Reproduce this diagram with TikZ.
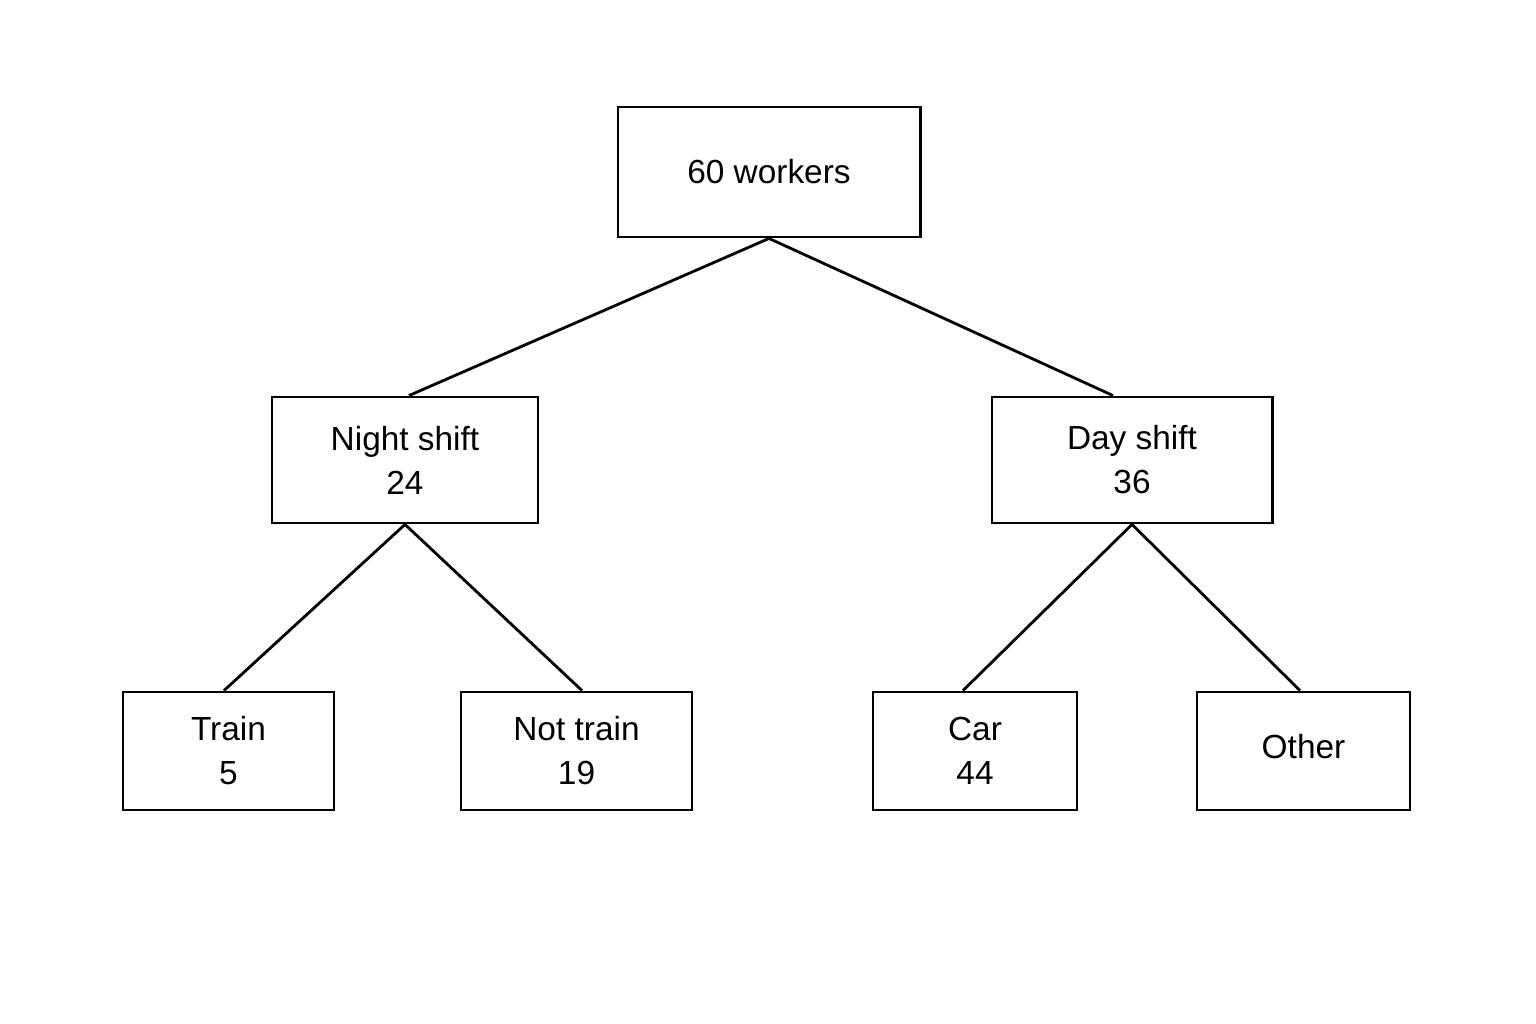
\documentclass[tikz,border=0pt]{standalone}
\usepackage{fontspec}
\setmainfont{Liberation Sans}
\begin{document}
\begin{tikzpicture}[x=0.01cm,y=-0.01cm,
  box/.style={rectangle, draw, line width=0.8pt, align=center, inner sep=0pt,
    font=\fontsize{9.5}{12.5}\selectfont}]
\useasboundingbox (0,0) rectangle (1536,1024);

\node [box, minimum width=3.02cm, minimum height=1.30cm] (root) at (769,172) {60 workers};
\node [box, minimum width=2.66cm, minimum height=1.26cm] (night) at (405,460) {Night shift\\24};
\node [box, minimum width=2.80cm, minimum height=1.26cm] (day) at (1132,460) {Day shift\\36};
\node [box, minimum width=2.11cm, minimum height=1.18cm] (train) at (228.5,751) {Train\\5};
\node [box, minimum width=2.31cm, minimum height=1.18cm] (nottrain) at (576.5,751) {Not train\\19};
\node [box, minimum width=2.04cm, minimum height=1.18cm] (car) at (975,751) {Car\\44};
\node [box, minimum width=2.13cm, minimum height=1.18cm] (other) at (1303.5,751) {\raisebox{0.1cm}{Other}};

\draw [line width=0.8pt] (root.south) -- ([xshift=0.04cm]night.north);
\draw [line width=0.8pt] (root.south) -- ([xshift=-0.19cm]day.north);
\draw [line width=0.8pt] (night.south) -- ([xshift=-0.045cm]train.north);
\draw [line width=0.8pt] (night.south) -- ([xshift=0.055cm]nottrain.north);
\draw [line width=0.8pt] (day.south) -- ([xshift=-0.12cm]car.north);
\draw [line width=0.8pt] (day.south) -- ([xshift=-0.035cm]other.north);
\end{tikzpicture}
\end{document}
